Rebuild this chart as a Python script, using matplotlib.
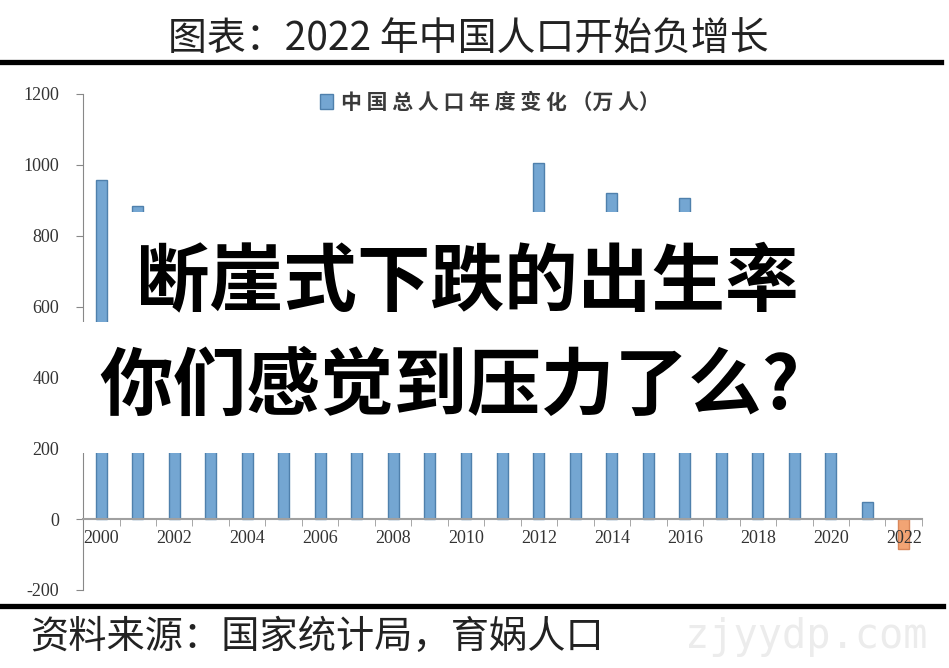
import numpy as np
import matplotlib.pyplot as plt
from matplotlib.patches import Rectangle
from matplotlib.lines import Line2D

# data: annual change of China's total population (10k people)
years = list(range(2000, 2023))
change = [957, 884, 826, 769, 761, 768, 692, 681, 673, 672, 641, 825,
          1006, 804, 920, 680, 906, 779, 530, 467, 204, 48, -85]
yticks = [-200, 0, 200, 400, 600, 800, 1000, 1200]

title = '图表：2022 年中国人口开始负增长'
legend_label = '中 国 总 人 口 年 度 变 化 （万 人）'
source = '资料来源：国家统计局，育娲人口'
line1 = '断崖式下跌的出生率'
line2 = '你们感觉到压力了么?'
watermark = 'zjyydp.com'

cjk = ['Noto Sans CJK SC', 'DejaVu Sans']
serif = 'Liberation Serif'

fig = plt.figure(figsize=(9.49, 6.68), dpi=100)
fig.patch.set_facecolor('white')

ax = fig.add_axes([0.0875, 0.1168, 0.884, 0.7425])
x = np.arange(len(years))
colors = ['#74a6d2' if v >= 0 else '#f2a474' for v in change]
edges = ['#4f80ac' if v >= 0 else '#d9875a' for v in change]
ax.bar(x, change, width=0.3, color=colors, edgecolor=edges, linewidth=1,
       label=legend_label)

ax.set_xlim(-0.5, len(years) - 0.5)
ax.set_ylim(-200, 1200)

# spines first: moving a spine resets the ticks
ax.spines['top'].set_visible(False)
ax.spines['right'].set_visible(False)
ax.spines['left'].set_color('#888888')
ax.spines['bottom'].set_position(('data', 0))
ax.spines['bottom'].set_color('#a0a0a0')
ax.spines['bottom'].set_linewidth(1.5)

ax.tick_params(axis='y', direction='out', length=5, color='#888888', pad=12)
ax.tick_params(axis='x', which='major', length=0, pad=8)
ax.tick_params(axis='x', which='minor', direction='out', length=5,
               color='#999999')

ax.set_yticks(yticks)
ax.set_yticklabels([str(t) for t in yticks], fontfamily=serif, fontsize=13,
                   color='#333333')
ax.set_xticks(x[::2])
ax.set_xticklabels([str(y) for y in years[::2]], fontfamily=serif,
                   fontsize=13, color='#333333')
ax.set_xticks(np.arange(-0.5, len(years), 1), minor=True)

leg = ax.legend(loc='upper center', bbox_to_anchor=(0.485, 1.004),
                frameon=False, handlelength=0.6, handleheight=0.75,
                handletextpad=0.4, borderpad=0, borderaxespad=0,
                prop={'family': cjk, 'size': 15, 'weight': 'bold'})
for t in leg.get_texts():
    t.set_color('#3a3a3a')

# header and footer
fig.text(0.494, 0.94, title, ha='center', va='center', fontsize=28,
         family=cjk, weight='light', color='#222222')
fig.add_artist(Line2D([0, 0.992], [0.907, 0.907], color='black', lw=3.8))
fig.add_artist(Line2D([0, 0.994], [0.0935, 0.0935], color='black', lw=3.8))
fig.text(0.032, 0.046, source, ha='left', va='center', fontsize=27.5,
         family=cjk, weight='light', color='#222222', style='italic')
fig.text(0.85, 0.046, watermark, ha='center', va='center', fontsize=29,
         family='DejaVu Sans Mono', color='#ececec')

# white boxes behind the overlaid caption
fig.add_artist(Rectangle((0.1212, 0.518), 0.806, 0.1647,
                         transform=fig.transFigure, facecolor='white',
                         edgecolor='none', zorder=5))
fig.add_artist(Rectangle((0.0717, 0.3219), 0.8556, 0.1965,
                         transform=fig.transFigure, facecolor='white',
                         edgecolor='none', zorder=5))
fig.text(0.492, 0.576, line1, ha='center', va='center', fontsize=53,
         family=cjk, weight='black', color='black', zorder=6)
fig.text(0.474, 0.419, line2, ha='center', va='center', fontsize=53,
         family=cjk, weight='black', color='black', zorder=6)

fig.savefig('out.png', dpi=100)
